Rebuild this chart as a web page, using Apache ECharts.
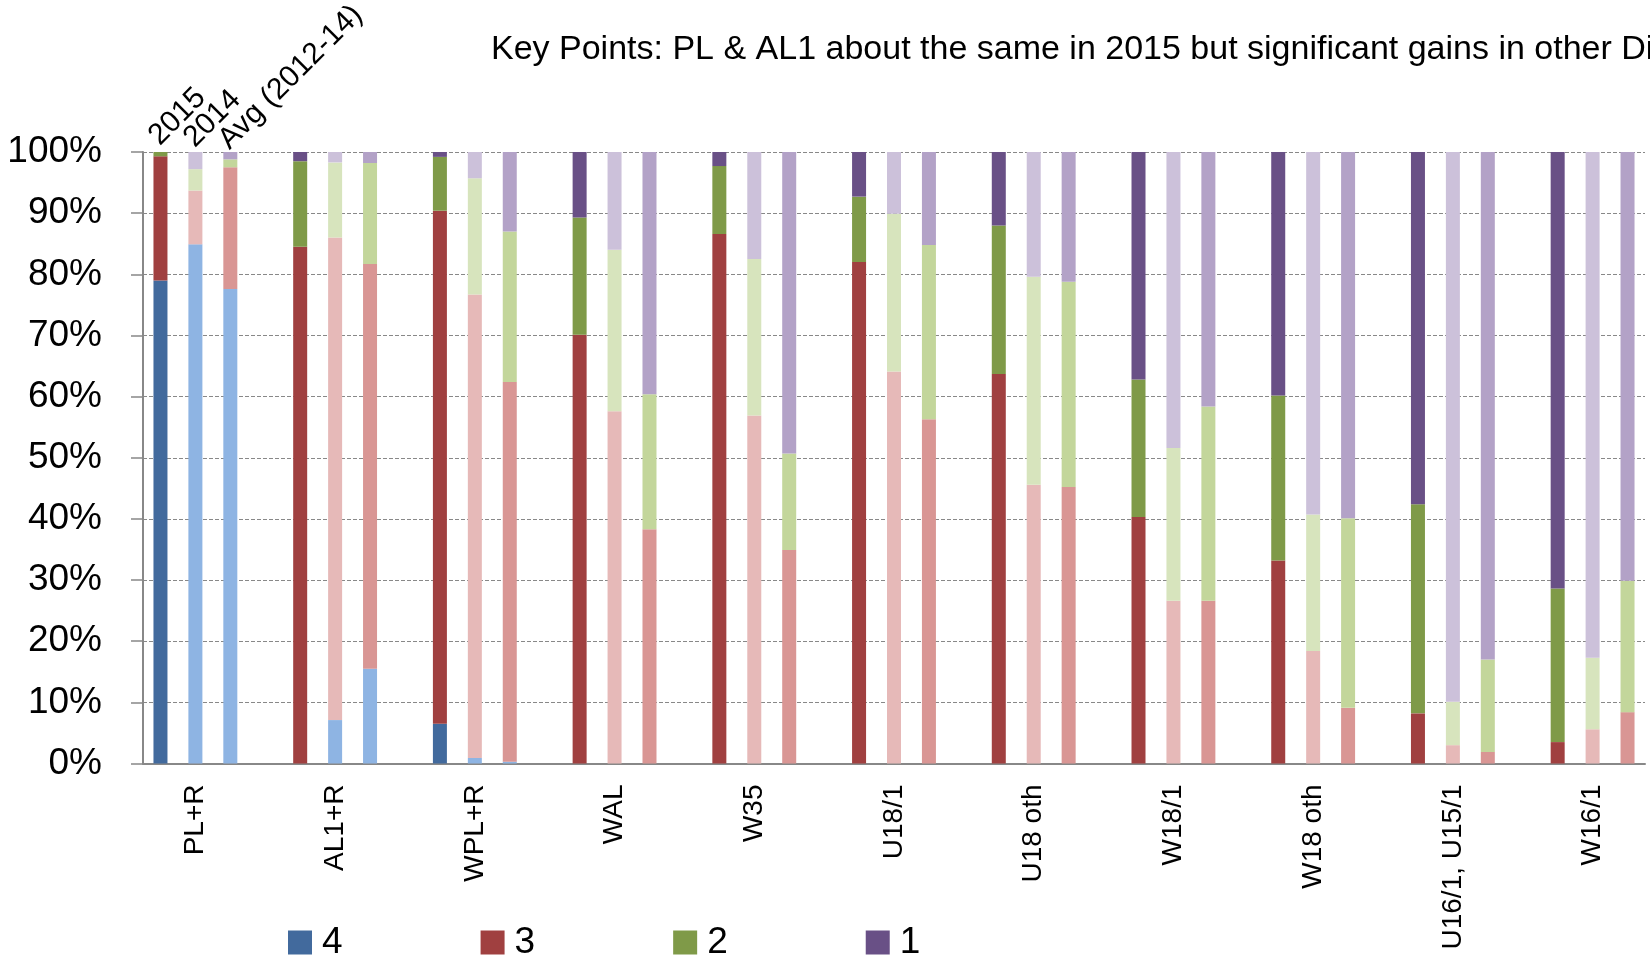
<!DOCTYPE html>
<html>
<head>
<meta charset="utf-8">
<title>Division grades</title>
<script src="https://cdn.jsdelivr.net/npm/echarts@6/dist/echarts.min.js"></script>
<style>
	html, body { margin: 0; padding: 0; background: #fff; }
	#chart { width: 1650px; height: 965px; }
</style>
</head>
<body>
<div id="chart"></div>
<script>
"use strict";
// groups along the x axis, each one has three bars: 2015, 2014, avg
var groups = ['PL+R', 'AL1+R', 'WPL+R', 'WAL', 'W35', 'U18/1', 'U18 oth', 'W18/1', 'W18 oth', 'U16/1, U15/1', 'W16/1'];
var years = ['2015', '2014', 'Avg (2012-14)'];
var levels = ['4', '3', '2', '1'];

// percentages per level (4 at the bottom, 1 on top)
var lvl4_2015 = [79.0, 0, 6.5, 0, 0, 0, 0, 0, 0, 0, 0];
var lvl3_2015 = [20.3, 84.5, 83.9, 70.1, 86.6, 82.0, 63.7, 40.3, 33.2, 8.2, 3.5];
var lvl2_2015 = [0.7, 14.0, 8.8, 19.2, 11.1, 10.7, 24.3, 22.5, 27.0, 34.2, 25.1];
var lvl1_2015 = [0, 1.5, 0.8, 10.7, 2.3, 7.3, 12.0, 37.2, 39.8, 57.6, 71.4];

var lvl4_2014 = [84.9, 7.1, 0.9, 0, 0, 0, 0, 0, 0, 0, 0];
var lvl3_2014 = [8.8, 78.9, 75.8, 57.6, 56.9, 64.1, 45.6, 26.6, 18.4, 3.0, 5.6];
var lvl2_2014 = [3.5, 12.3, 19.0, 26.4, 25.6, 25.8, 34.0, 25.0, 22.3, 7.1, 11.7];
var lvl1_2014 = [2.8, 1.7, 4.3, 16.0, 17.5, 10.1, 20.4, 48.4, 59.3, 89.9, 82.7];

var lvl4_avg = [77.6, 15.5, 0.3, 0, 0, 0, 0, 0, 0, 0, 0];
var lvl3_avg = [19.9, 66.2, 62.1, 38.3, 34.9, 56.3, 45.2, 26.6, 9.1, 1.9, 8.4];
var lvl2_avg = [1.3, 16.5, 24.6, 22.1, 15.8, 28.5, 33.6, 31.8, 31.0, 15.1, 21.5];
var lvl1_avg = [1.2, 1.8, 13.0, 39.6, 49.3, 15.2, 21.2, 41.6, 59.9, 83.0, 70.1];

var yTicks = [0, 10, 20, 30, 40, 50, 60, 70, 80, 90, 100];

var values = [
	[lvl4_2015, lvl3_2015, lvl2_2015, lvl1_2015],
	[lvl4_2014, lvl3_2014, lvl2_2014, lvl1_2014],
	[lvl4_avg, lvl3_avg, lvl2_avg, lvl1_avg]
];
// shades: 2015 dark, 2014 light, avg medium
var shades = [
	['#426A9D', '#A04040', '#7F9A48', '#695086'],
	['#8EB4E3', '#E6B9B8', '#D7E4BD', '#CCC1DA'],
	['#8EB4E3', '#D99694', '#C3D69B', '#B3A2C7']
];

// one slot per bar plus an empty slot between groups
var slots = [];
groups.forEach(function(g, gi) {
	years.forEach(function(y) { slots.push(g + '|' + y); });
	if (gi < groups.length - 1) slots.push(g + '|gap');
});

var series = levels.map(function(lv, li) {
	var data = [];
	groups.forEach(function(g, gi) {
		for (var yi = 0; yi < 3; yi++) {
			data.push({ value: values[yi][li][gi], itemStyle: { color: shades[yi][li] } });
		}
		if (gi < groups.length - 1) data.push('-');
	});
	return {
		name: lv,
		type: 'bar',
		stack: 'all',
		barWidth: 14,
		itemStyle: { color: shades[0][li] },
		emphasis: { disabled: true },
		data: data
	};
});

var font = 'Liberation Sans, Arial, sans-serif';
var myChart = echarts.init(document.getElementById('chart'));
var option = {
	animation: false,
	backgroundColor: '#fff',
	title: {
		text: 'Key Points: PL & AL1 about the same in 2015 but significant gains in other Divisions',
		left: 486,
		top: 28,
		textStyle: { fontFamily: font, fontSize: 34, fontWeight: 'normal', color: '#000' }
	},
	legend: {
		data: levels,
		left: 283,
		top: 919,
		itemWidth: 24,
		itemHeight: 24,
		itemGap: 138,
		icon: 'rect',
		textStyle: { fontFamily: font, fontSize: 37, color: '#000', padding: [0, 0, 0, 5] }
	},
	grid: {
		left: 143,
		right: 5,
		top: 152,
		bottom: 201.5
	},
	xAxis: {
		type: 'category',
		data: slots,
		axisLine: { lineStyle: { color: '#888', width: 2 } },
		axisTick: { interval: 0, length: 10, lineStyle: { color: '#888', width: 1.5 } },
		axisLabel: {
			interval: 0,
			rotate: 90,
			margin: 21,
			fontFamily: font,
			fontSize: 28,
			color: '#000',
			formatter: function(v, i) {
				return i % 4 === 1 ? groups[Math.floor(i / 4)] : '';
			}
		}
	},
	yAxis: {
		type: 'value',
		min: yTicks[0],
		max: yTicks[yTicks.length - 1],
		interval: 10,
		axisLine: { show: true, lineStyle: { color: '#888', width: 2 } },
		axisTick: { show: true, length: 12, lineStyle: { color: '#888', width: 1.5 } },
		axisLabel: {
			margin: 41,
			fontFamily: font,
			fontSize: 37,
			color: '#000',
			formatter: '{value}%'
		},
		splitLine: { lineStyle: { color: '#888', type: [4, 2], width: 1 } }
	},
	series: series
};
myChart.setOption(option);

// rotated year labels over the first group, placed from the axis scale
var yearText = years.map(function(y, i) {
	var p = myChart.convertToPixel({ xAxisIndex: 0, yAxisIndex: 0 }, [i, 100]);
	return {
		type: 'text',
		x: p[0] + 4,
		y: p[1] - 1 + i * 2,
		rotation: Math.PI / 4,
		style: {
			text: y,
			fontFamily: font,
			fontSize: 30,
			fill: '#000',
			textAlign: 'left',
			textVerticalAlign: 'bottom'
		}
	};
});
myChart.setOption({ graphic: yearText });
</script>
</body>
</html>
